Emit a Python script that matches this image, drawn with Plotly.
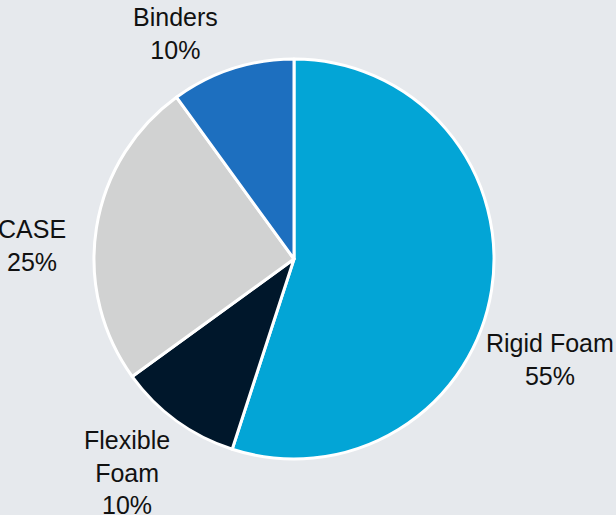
import plotly.graph_objects as go

# Market share by application segment (%)
segments = ["Rigid Foam", "Flexible Foam", "CASE", "Binders"]
label_text = ["Rigid Foam", "Flexible<br>Foam", "CASE", "Binders"]
shares = [55, 10, 25, 10]
colors = ["#03a5d6", "#00172b", "#d1d2d2", "#1d6fbf"]

# Label anchor positions (pixel centres within the 616x515 canvas)
label_px = [(550, 359), (127, 472), (32, 245), (175, 34)]

W, H = 616, 515
cx, cy, r = 294, 259, 200

fig = go.Figure(
    go.Pie(
        labels=segments,
        values=shares,
        sort=False,
        direction="clockwise",
        rotation=0,
        textinfo="none",
        hoverinfo="label+percent",
        marker=dict(colors=colors, line=dict(color="white", width=3)),
        domain=dict(
            x=[(cx - r) / W, (cx + r) / W],
            y=[(H - (cy + r)) / H, (H - (cy - r)) / H],
        ),
        showlegend=False,
    )
)

for txt, val, (px, py) in zip(label_text, shares, label_px):
    fig.add_annotation(
        x=px / W,
        y=1 - py / H,
        xref="paper",
        yref="paper",
        text=f"{txt}<br>{val}%",
        showarrow=False,
        xanchor="center",
        yanchor="middle",
        align="center",
        font=dict(family="Liberation Sans, Arial, sans-serif", size=25, color="#111111"),
    )

fig.update_layout(
    width=W,
    height=H,
    margin=dict(l=0, r=0, t=0, b=0),
    paper_bgcolor="#e6e9ed",
    plot_bgcolor="#e6e9ed",
)

fig.write_html("out.html")
